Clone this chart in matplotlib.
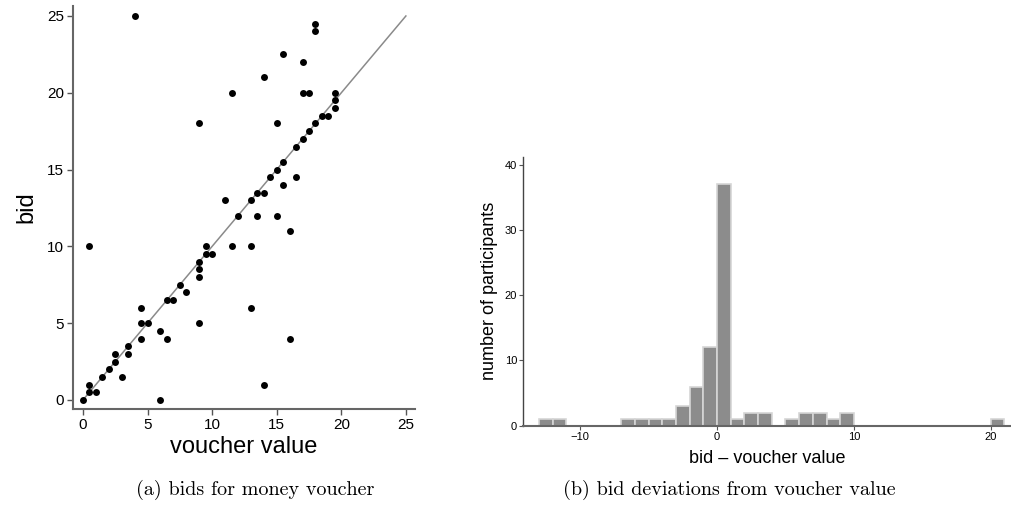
import matplotlib
matplotlib.use("Agg")
import matplotlib.pyplot as plt

plt.rcParams['font.family'] = ['Liberation Sans', 'DejaVu Sans']

# scatter data: voucher value vs. bid
voucher = [0, 0.5, 0.5, 0.5, 1, 1.5, 2, 2.5, 2.5, 3, 3.5, 3.5, 4, 4.5, 4.5, 4.5,
           5, 6, 6, 6.5, 6.5, 7, 7.5, 8, 9, 9, 9, 9, 9, 9.5, 9.5, 10, 11, 11.5,
           11.5, 12, 13, 13, 13, 13.5, 13.5, 14, 14, 14, 14.5, 15, 15, 15, 15.5,
           15.5, 15.5, 16, 16, 16.5, 16.5, 17, 17, 17, 17.5, 17.5, 18, 18, 18,
           18.5, 19, 19.5, 19.5, 19.5]
bid = [0, 1, 0.5, 10, 0.5, 1.5, 2, 2.5, 3, 1.5, 3.5, 3, 25, 6, 5, 4,
       5, 4.5, 0, 6.5, 4, 6.5, 7.5, 7, 9, 8.5, 8, 5, 18, 10, 9.5, 9.5, 13, 10,
       20, 12, 13, 10, 6, 12, 13.5, 13.5, 21, 1, 14.5, 12, 15, 18, 15.5,
       14, 22.5, 11, 4, 16.5, 14.5, 17, 20, 22, 17.5, 20, 18, 24, 24.5,
       18.5, 18.5, 19, 19.5, 20]

# histogram of bid - voucher value (bin left edges, width 1)
bin_left = [-13, -12, -7, -6, -5, -4, -3, -2, -1, 0, 1, 2, 3, 5, 6, 7, 8, 9, 20]
counts = [1, 1, 1, 1, 1, 1, 3, 6, 12, 37, 1, 2, 2, 1, 2, 2, 1, 2, 1]

fig = plt.figure(figsize=(10.12, 5.13), dpi=100)

# (a) scatter
ax1 = fig.add_axes([0.0724, 0.2027, 0.3376, 0.7856])
ax1.plot([0, 25], [0, 25], color='#8a8a8a', lw=1.1, zorder=1)
ax1.scatter(voucher, bid, s=25, color='black', zorder=2, linewidths=0)
ax1.set_xlim(-0.75, 25.7)
ax1.set_ylim(-0.59, 25.65)
ax1.set_xticks([0, 5, 10, 15, 20, 25])
ax1.set_yticks([0, 5, 10, 15, 20, 25])
ax1.tick_params(labelsize=11, length=4.5, width=1, color='#555555', pad=2)
ax1.set_xlabel('voucher value', fontsize=17, labelpad=3)
ax1.set_ylabel('bid', fontsize=17, labelpad=7)
for s in ['top', 'right']:
    ax1.spines[s].set_visible(False)
for s in ['left', 'bottom']:
    ax1.spines[s].set_color('#666666')
    ax1.spines[s].set_linewidth(1.5)

# (b) histogram
ax2 = fig.add_axes([0.5171, 0.1702, 0.4829, 0.5244])
ax2.bar(bin_left, counts, width=1, align='edge', color='#8c8c8c',
        edgecolor='#d6d6d6', linewidth=1.2)
ax2.set_xlim(-14.15, 21.55)
ax2.set_ylim(0, 41.2)
ax2.set_xticks([-10, 0, 10, 20])
ax2.set_xticklabels(['\u221210', '0', '10', '20'])
ax2.set_yticks([0, 10, 20, 30, 40])
ax2.tick_params(labelsize=8, length=3, width=0.8, color='#555555', pad=1.5)
ax2.set_xlabel('bid \u2013 voucher value', fontsize=13, labelpad=6)
ax2.set_ylabel('number of participants', fontsize=13, labelpad=5)
for s in ['top', 'right']:
    ax2.spines[s].set_visible(False)
ax2.spines['left'].set_color('#444444')
ax2.spines['left'].set_linewidth(1)
ax2.spines['bottom'].set_color('#666666')
ax2.spines['bottom'].set_linewidth(1.5)

# sub-captions
fig.text(0.252, 0.035, '(a) bids for money voucher', fontsize=14.5,
         family='cmr10', ha='center', va='baseline')
fig.text(0.721, 0.035, '(b) bid deviations from voucher value', fontsize=14.5,
         family='cmr10', ha='center', va='baseline')

fig.savefig('out.png', dpi=100)
